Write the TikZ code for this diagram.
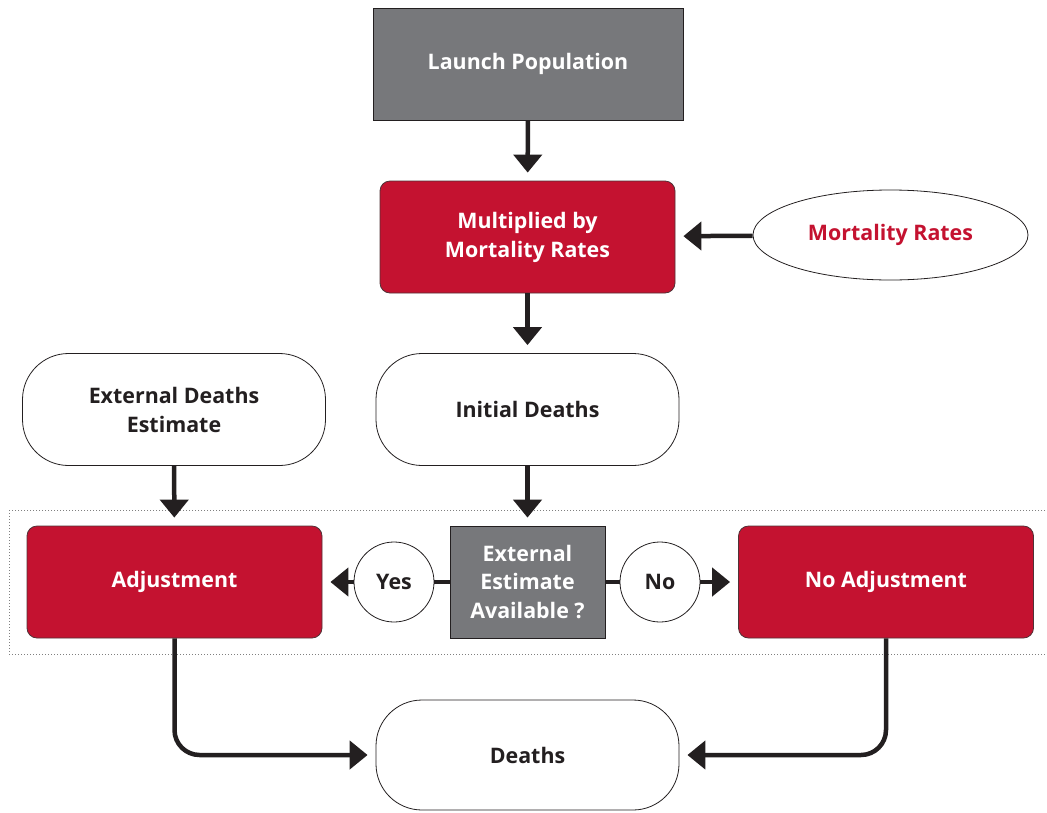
\documentclass[tikz,border=0pt]{standalone}
\usepackage{fontspec}
\setmainfont{Open Sans}
\usetikzlibrary{arrows.meta, shapes.geometric}

\begin{document}
\begin{tikzpicture}[
        x = 1pt,
        y = -1pt,
        font = \bfseries\fontsize{21.4}{29}\selectfont
    ]

        \definecolor{boxred}{RGB}{196,18,48}
        \definecolor{boxgrey}{RGB}{119,120,123}
        \definecolor{inkblack}{RGB}{35,31,32}
        \definecolor{rededge}{RGB}{80,50,55}

        \tikzset{%
            greybox/.style = {%
                rectangle,
                fill           = boxgrey,
                draw           = inkblack,
                line width     = 0.8pt,
                text           = white,
                align          = center
            },
            redbox/.style = {%
                rectangle,
                rounded corners = 10pt,
                fill           = boxred,
                draw           = rededge,
                line width     = 0.8pt,
                text           = white,
                align          = center,
                minimum width  = 295pt,
                minimum height = 112pt
            },
            roundbox/.style = {%
                rectangle,
                rounded corners = 46pt,
                fill           = white,
                draw           = inkblack,
                line width     = 0.8pt,
                text           = inkblack,
                align          = center,
                minimum width  = 303pt,
                minimum height = 112pt
            },
            answer/.style = {%
                circle,
                fill           = white,
                draw           = inkblack,
                line width     = 0.8pt,
                text           = inkblack,
                minimum size   = 80pt,
                inner sep      = 0pt
            },
            flow/.style = {%
                draw           = inkblack,
                line width     = 4.5pt,
                -{Triangle[width = 28pt, length = 18pt]},
                shorten >      = 8pt
            }
        }

        \useasboundingbox (0, 0) rectangle (1047, 812);

        % Dotted band round the decision row
        \draw[gray, dotted, line width = 1pt] (9, 510) rectangle (1070, 654);

        \node[greybox, minimum width = 310pt, minimum height = 112pt] (launch) at (528, 64) {Launch Population};
        \node[redbox] (multiply) at (527.5, 237) {Multiplied by\\Mortality Rates};
        \node[ellipse, draw = inkblack, line width = 0.8pt, text = boxred,
              minimum width = 275pt, minimum height = 90pt] (rates) at (890.5, 235) {Mortality Rates};

        \node[roundbox] (initial) at (527.5, 409.5) {Initial Deaths};
        \node[roundbox] (external) at (174, 409.5) {External Deaths\\Estimate};

        \node[redbox] (adjust) at (174.5, 582) {Adjustment};
        \node[greybox, minimum width = 155pt, minimum height = 112pt] (question) at (527.5, 582) {External\\Estimate\\Available ?};
        \node[redbox] (noadjust) at (886, 582) {No Adjustment};
        \node[answer] (yes) at (394, 582) {Yes};
        \node[answer] (no) at (660, 582) {No};

        \node[roundbox, minimum height = 110pt] (deaths) at (527.5, 755) {Deaths};

        \draw[flow] (launch) -- (multiply);
        \draw[flow] (rates) -- (multiply);
        \draw[flow] (multiply) -- (initial);
        \draw[flow] (initial) -- (question);
        \draw[flow] (external) -- (adjust);

        \draw[draw = inkblack, line width = 4.5pt] (question) -- (yes);
        \draw[flow] (yes) -- (adjust);
        \draw[draw = inkblack, line width = 4.5pt] (question) -- (no);
        \draw[flow] (no) -- (noadjust);

        \draw[flow, rounded corners = 25pt] (adjust.south) |- (deaths.west);
        \draw[flow, rounded corners = 25pt] (noadjust.south) |- (deaths.east);

    \end{tikzpicture}
\end{document}
